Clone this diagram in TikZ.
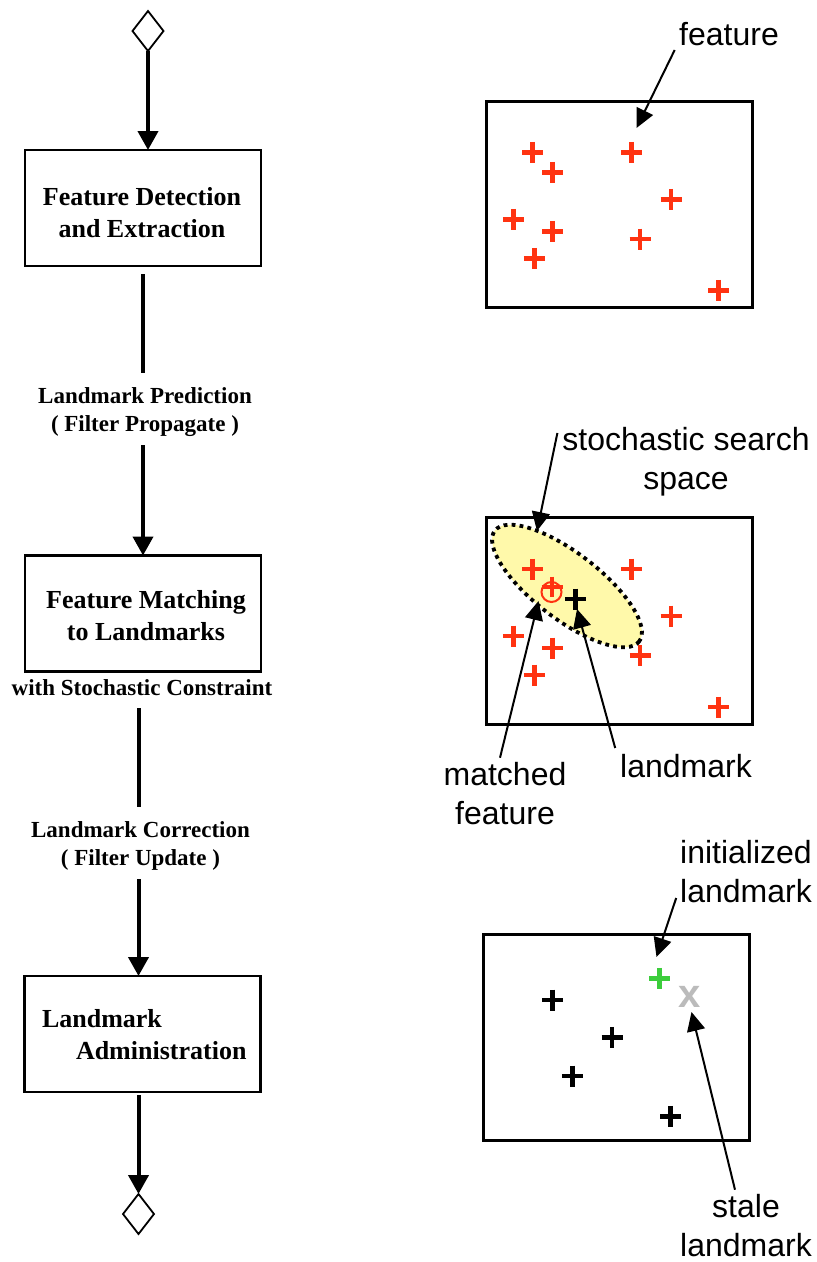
\documentclass[tikz,border=0pt]{standalone}
\usepackage{fontspec}
\setmainfont{Liberation Serif}
\newfontfamily\helv{Liberation Sans}
\usetikzlibrary{arrows.meta,shapes.geometric}

\definecolor{featred}{HTML}{FF3311}
\definecolor{newgreen}{HTML}{3CCD3C}
\definecolor{stalegray}{HTML}{BBBBBB}
\definecolor{searchfill}{HTML}{FFF9AA}

% centred stack of lines whose anchor=base is the first baseline
\newcommand\stackc[1]{\begin{tabular}[t]{@{}c@{}}#1\end{tabular}}

\begin{document}
\begin{tikzpicture}[x=1pt,y=-1pt,
  every node/.style={inner sep=0pt, outer sep=0pt},
  stepbox/.style={draw, line width=2.7pt, minimum width=236pt, minimum height=116pt},
  boxtext/.style={font=\fontsize{26}{32}\selectfont\bfseries, anchor=base},
  flowlabel/.style={font=\fontsize{23}{28}\selectfont\bfseries, anchor=base},
  term/.style={draw, shape=diamond, line width=1.8pt, minimum width=31pt, minimum height=40pt},
  flow/.style={line width=4pt, -{Triangle[length=19pt,width=20pt]}},
  flowline/.style={line width=4pt},
  panel/.style={draw, line width=2.5pt},
  note/.style={font=\helv\fontsize{32}{39}\selectfont, anchor=base},
  callout/.style={line width=2pt, -{Triangle[length=19pt,width=18pt]}},
  crossline/.style={line width=4.5pt},
]
\fill[white] (0,0) rectangle (817,1262);
\useasboundingbox (0,0) rectangle (817,1262);

% ---------------- process flow ----------------
\node[term] (d1) at (148,31) {};
\node[stepbox] (b1) at (143,208) {};
\node[boxtext] (t1) at (142,205) {\stackc{Feature Detection\\and Extraction}};
\node[flowlabel] (lp) at (145,403) {\stackc{Landmark Prediction\\( Filter Propagate )}};
\node[stepbox] (b2) at (143,613.5) {};
\node[boxtext] (t2) at (146,608) {\stackc{Feature Matching\\to Landmarks}};
\node[flowlabel] (ws) at (142,695) {with Stochastic Constraint};
\node[flowlabel] (lc) at (140.5,837) {\stackc{Landmark Correction\\( Filter Update )}};
\node[stepbox] (b3) at (142.5,1034) {};
\node[boxtext, anchor=base west] (t3) at (42,1027)
  {\begin{tabular}[t]{@{}l@{}}Landmark\\\hspace*{34pt}Administration\end{tabular}};
\node[term] (d2) at (138.5,1214) {};

\draw[flow] (d1.south) -- (d1.south |- b1.north);
\draw[flowline] ([yshift=-8pt]b1.south) -- ([yshift=10pt]b1.south |- lp.north);
\draw[flow] ([yshift=-6pt]b1.south |- lp.south) -- (b1.south |- b2.north);
\draw[flowline] ([yshift=-13pt]d2 |- ws.base) -- ([yshift=10pt]d2 |- lc.north);
\draw[flow] ([yshift=-6pt]d2 |- lc.south) -- (d2 |- b3.north);
\draw[flow] ([yshift=-3pt]d2 |- b3.south) -- (d2.north);

% ---------------- panel 1: detected features ----------------
\node[panel, minimum width=266pt, minimum height=206pt] (p1) at (619.5,204.5) {};
\foreach \px/\py in {532.7/152.3, 552.7/172.3, 631.7/152.3, 671/199.3, 513.3/219.3,
                     552.7/231.3, 640/239, 534.3/258.3, 718.7/290.3}
  \draw[crossline, featred] (\px-10.5,\py) -- (\px+10.5,\py) (\px,\py-10.5) -- (\px,\py+10.5);

\node[note] (fl) at (729,45) {feature};
\coordinate (featTip) at (636.5,128);
\draw[callout] ([xshift=-4.5pt,yshift=-5pt]fl.base west) -- (featTip);

% ---------------- panel 2: matching with search region ----------------
\node[panel, minimum width=266pt, minimum height=207pt] (p2) at (619.5,621) {};
\draw[fill=searchfill, draw=black, line width=3.8pt,
      dash pattern=on 3.8pt off 4.2pt, rotate around={-37.5:(567,586)}]
  (567,586) ellipse [x radius=91, y radius=33];
\foreach \px/\py in {532.7/569, 631.7/569, 671/616, 513.3/636, 552.7/648,
                     640/655.5, 534.3/675, 718.7/707}
  \draw[crossline, featred] (\px-10.5,\py) -- (\px+10.5,\py) (\px,\py-10.5) -- (\px,\py+10.5);
% matched feature
\draw[crossline, featred] (552-10.5,587) -- (552+10.5,587) (552,587-10.5) -- (552,587+10);
\draw[featred, line width=2pt] (551.5,592) circle [radius=10];
% predicted landmark
\draw[crossline, black] (575.3-10.5,599) -- (575.3+10.5,599) (575.3,599-10.5) -- (575.3,599+10.5);

\node[note] (ssl) at (686,450) {\stackc{stochastic search\\space}};
\node[note] (mfl) at (505,785) {\stackc{matched\\feature}};
\node[note] (lml) at (686,777) {landmark};
\coordinate (searchTip) at (537,531);
\coordinate (matchTip) at (538.5,601);
\coordinate (lmTip) at (577,609);
\draw[callout] ([xshift=-5pt,yshift=17pt]ssl.base west) -- (searchTip);
\draw[callout] ([xshift=-5pt]mfl.north) -- (matchTip);
\draw[callout] ([xshift=-5pt,yshift=29pt]lml.base west) -- (lmTip);

% ---------------- panel 3: landmark administration ----------------
\node[panel, minimum width=266pt, minimum height=206pt] (p3) at (616.5,1037.5) {};
\foreach \px/\py in {552.7/1000, 612/1037.3, 572.3/1076, 670.7/1116.3}
  \draw[crossline, black] (\px-10.5,\py) -- (\px+10.5,\py) (\px,\py-10.5) -- (\px,\py+10.5);
\draw[crossline, newgreen] (659.7-10.5,978.3) -- (659.7+10.5,978.3) (659.7,978.3-10.5) -- (659.7,978.3+10.5);
\node[font=\helv\bfseries\fontsize{40}{40}\selectfont, text=stalegray] (sx) at (690,997) {x};

\node[note] (inl) at (746,863) {\stackc{initialized\\landmark}};
\node[note] (stl) at (746,1217) {\stackc{stale\\landmark}};
\coordinate (initTip) at (656.5,957);
\coordinate (staleTip) at (691.5,1012);
\draw[callout] ([xshift=-4pt,yshift=-35pt]inl.base west) -- (initTip);
\draw[callout] ([xshift=-11pt]stl.north) -- (staleTip);
\end{tikzpicture}
\end{document}
